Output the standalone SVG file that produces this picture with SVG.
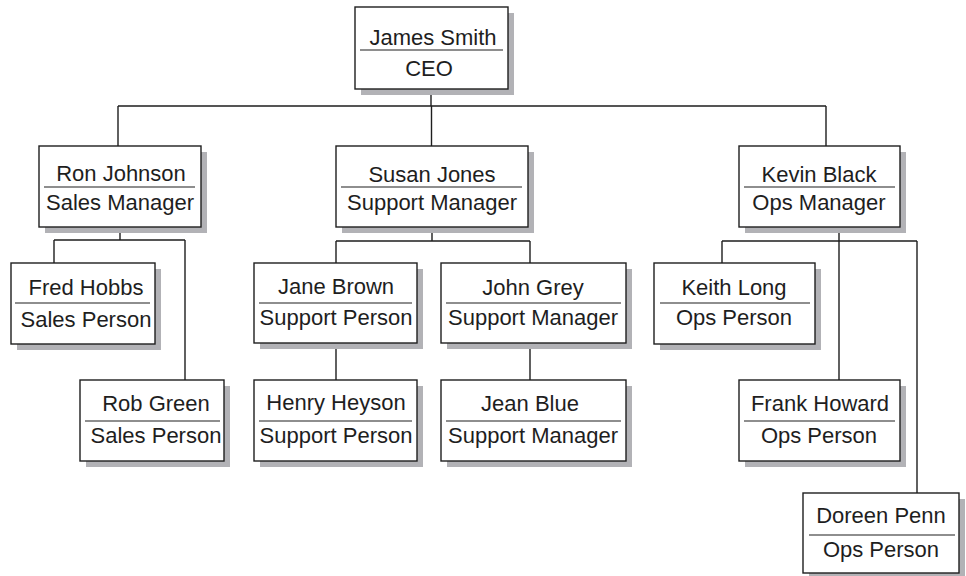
<svg xmlns="http://www.w3.org/2000/svg" width="966" height="576" viewBox="0 0 966 576">
<style>
.bg{fill:#ffffff}
.sh{fill:#b2b2b6}
.bx{fill:#ffffff;stroke:#1e1e1e;stroke-width:1.4}
.dv{stroke:#1e1e1e;stroke-width:1.2}
.cn{fill:none;stroke:#1e1e1e;stroke-width:1.4}
text{font-family:"Liberation Sans",Arial,sans-serif;font-size:22px;fill:#1e1e1e;text-anchor:middle}
</style>
<rect class="bg" x="0" y="0" width="966" height="576"/>
<g id="connectors">
<path class="cn" d="M431,89V106M118,106H826M118,106V146M431.5,106V146M826,106V146"/>
<path class="cn" d="M120,227V240M54,240H185M54,240V263M185,240V380"/>
<path class="cn" d="M432,227V241M336,241H530M336,241V263M530,241V263M336,343V380M530,343V380"/>
<path class="cn" d="M839,227V380M722,241H917M722,241V263M917,241V493"/>
</g>
<g id="ceo">
<rect class="sh" x="361" y="13" width="153" height="82"/>
<rect class="bx" x="355" y="7" width="153" height="82"/>
<line class="dv" x1="360" y1="50" x2="503" y2="50"/>
<text x="433" y="45">James Smith</text>
<text x="429" y="76">CEO</text>
</g>
<g id="ron">
<rect class="sh" x="45" y="152" width="162" height="81"/>
<rect class="bx" x="39" y="146" width="162" height="81"/>
<line class="dv" x1="44" y1="187" x2="195" y2="187"/>
<text x="121" y="181">Ron Johnson</text>
<text x="120" y="210">Sales Manager</text>
</g>
<g id="susan">
<rect class="sh" x="342" y="152" width="192" height="81"/>
<rect class="bx" x="336" y="146" width="192" height="81"/>
<line class="dv" x1="341" y1="187" x2="522" y2="187"/>
<text x="432" y="182">Susan Jones</text>
<text x="432" y="210">Support Manager</text>
</g>
<g id="kevin">
<rect class="sh" x="745" y="152" width="161" height="81"/>
<rect class="bx" x="739" y="146" width="161" height="81"/>
<line class="dv" x1="744" y1="187" x2="895" y2="187"/>
<text x="819" y="182">Kevin Black</text>
<text x="819" y="210">Ops Manager</text>
</g>
<g id="fred">
<rect class="sh" x="17" y="269" width="144" height="81"/>
<rect class="bx" x="11" y="263" width="144" height="81"/>
<line class="dv" x1="15" y1="303" x2="150" y2="303"/>
<text x="86" y="295">Fred Hobbs</text>
<text x="86" y="327">Sales Person</text>
</g>
<g id="rob">
<rect class="sh" x="86" y="386" width="144" height="81"/>
<rect class="bx" x="80" y="380" width="144" height="81"/>
<line class="dv" x1="85" y1="421" x2="220" y2="421"/>
<text x="156" y="411">Rob Green</text>
<text x="156" y="443">Sales Person</text>
</g>
<g id="jane">
<rect class="sh" x="260" y="269" width="163" height="80"/>
<rect class="bx" x="254" y="263" width="163" height="80"/>
<line class="dv" x1="259" y1="303" x2="412" y2="303"/>
<text x="336" y="294">Jane Brown</text>
<text x="336" y="325">Support Person</text>
</g>
<g id="john">
<rect class="sh" x="447" y="269" width="185" height="80"/>
<rect class="bx" x="441" y="263" width="185" height="80"/>
<line class="dv" x1="446" y1="303" x2="621" y2="303"/>
<text x="533" y="295">John Grey</text>
<text x="533" y="325">Support Manager</text>
</g>
<g id="henry">
<rect class="sh" x="260" y="386" width="163" height="81"/>
<rect class="bx" x="254" y="380" width="163" height="81"/>
<line class="dv" x1="259" y1="421" x2="412" y2="421"/>
<text x="336" y="410">Henry Heyson</text>
<text x="336" y="443">Support Person</text>
</g>
<g id="jean">
<rect class="sh" x="447" y="386" width="185" height="81"/>
<rect class="bx" x="441" y="380" width="185" height="81"/>
<line class="dv" x1="446" y1="421" x2="621" y2="421"/>
<text x="530" y="411">Jean Blue</text>
<text x="533" y="443">Support Manager</text>
</g>
<g id="keith">
<rect class="sh" x="660" y="269" width="161" height="81"/>
<rect class="bx" x="654" y="263" width="161" height="81"/>
<line class="dv" x1="660" y1="303" x2="810" y2="303"/>
<text x="734" y="295">Keith Long</text>
<text x="734" y="325">Ops Person</text>
</g>
<g id="frank">
<rect class="sh" x="745" y="386" width="161" height="81"/>
<rect class="bx" x="739" y="380" width="161" height="81"/>
<line class="dv" x1="744" y1="421" x2="895" y2="421"/>
<text x="820" y="411">Frank Howard</text>
<text x="819" y="443">Ops Person</text>
</g>
<g id="doreen">
<rect class="sh" x="809" y="499" width="156" height="80"/>
<rect class="bx" x="803" y="493" width="156" height="80"/>
<line class="dv" x1="809" y1="535" x2="955" y2="535"/>
<text x="881" y="523">Doreen Penn</text>
<text x="881" y="557">Ops Person</text>
</g>
</svg>
